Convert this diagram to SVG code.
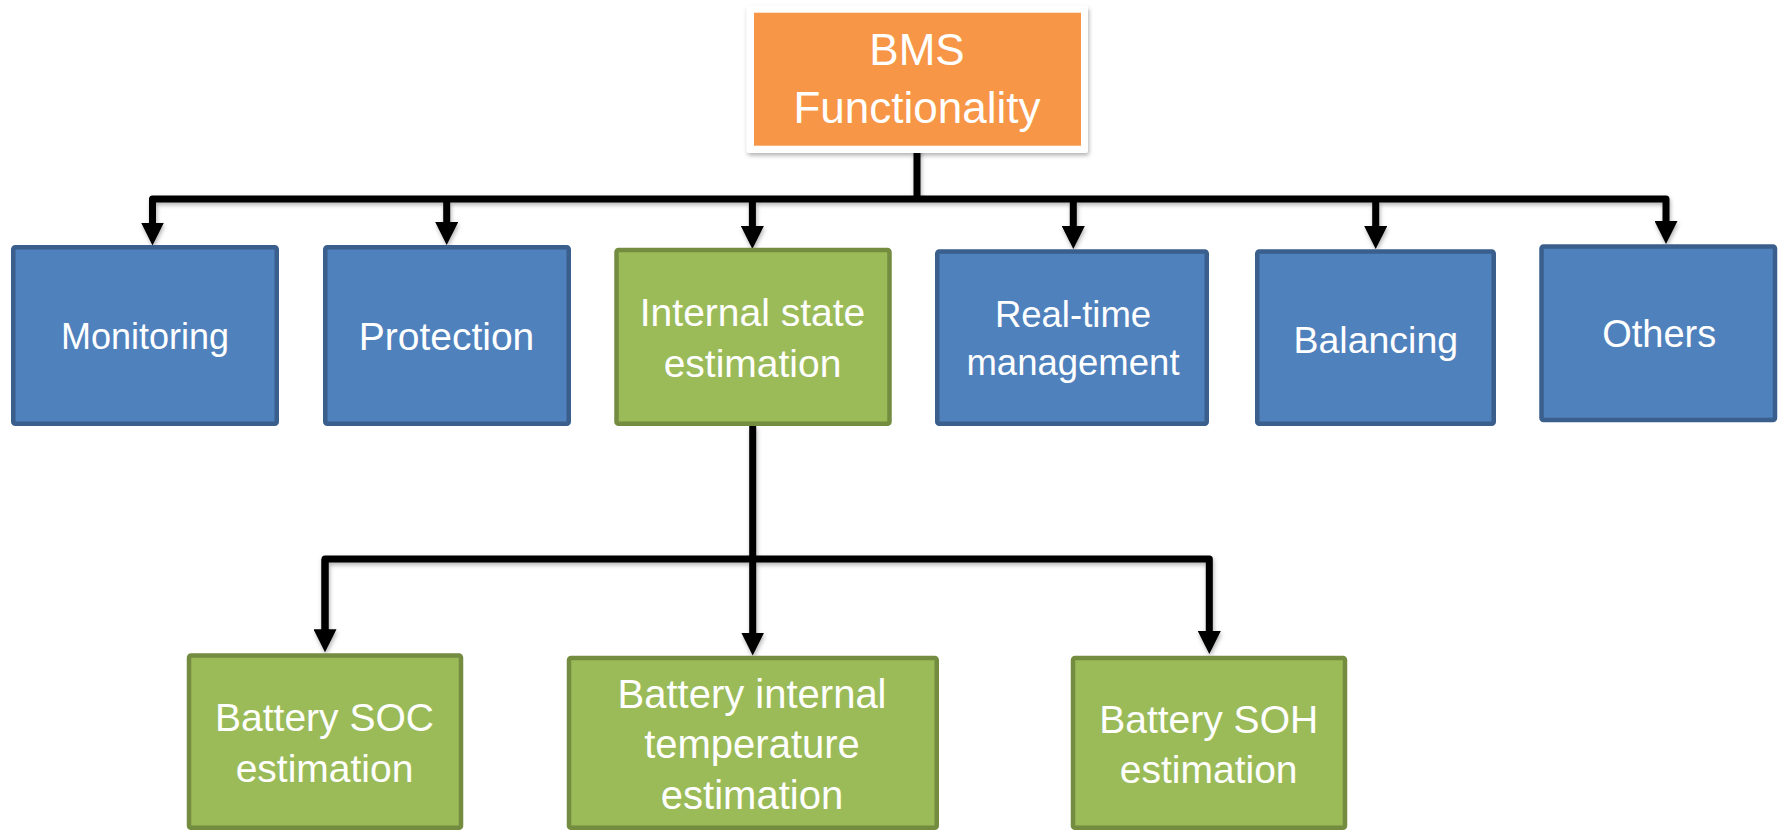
<svg xmlns="http://www.w3.org/2000/svg" width="1781" height="830" viewBox="0 0 1781 830">
<style>
.blue{fill:#4F81BD;stroke:#3A5F8C;stroke-width:4.5}
.green{fill:#9BBB59;stroke:#738C40;stroke-width:4.5}
.lbl{font-family:"Liberation Sans",Arial,sans-serif;fill:#FFFFFF;text-anchor:middle}
.wire{fill:none;stroke:#000;stroke-width:7;stroke-linejoin:round}
</style>
<defs>
<marker id="ah" viewBox="0 0 23 23" markerWidth="23" markerHeight="23" refX="1" refY="11.5" orient="auto" markerUnits="userSpaceOnUse">
<path d="M0,0 L23,11.5 L0,23 Z" fill="#000"/>
</marker>
<filter id="sh" x="-10%" y="-10%" width="120%" height="130%">
<feDropShadow dx="1" dy="2.5" stdDeviation="2" flood-color="#000" flood-opacity="0.3"/>
</filter>
</defs>
<rect width="1781" height="830" fill="#FFFFFF"/>

<g id="connectors" filter="url(#sh)">
<path class="wire" d="M917,145 V199"/>
<path class="wire" d="M152.5,223.5 V199 H1666 V222" marker-end="url(#ah)"/>
<path class="wire" d="M152.5,199 V223.5" marker-end="url(#ah)"/>
<path class="wire" d="M446.7,199 V223" marker-end="url(#ah)"/>
<path class="wire" d="M752.4,199 V227" marker-end="url(#ah)"/>
<path class="wire" d="M1073.3,199 V227" marker-end="url(#ah)"/>
<path class="wire" d="M1375.7,199 V227" marker-end="url(#ah)"/>
<path class="wire" d="M752.7,426 V633.5" marker-end="url(#ah)"/>
<path class="wire" d="M325,630 V559 H1209.3 V632" marker-end="url(#ah)"/>
<path class="wire" d="M325,559 V630.3" marker-end="url(#ah)"/>
</g>

<g id="bms">
<rect x="746.7" y="5.7" width="341.3" height="147.3" rx="3" fill="#FFFFFF" filter="url(#sh)"/>
<rect x="754" y="12.7" width="327" height="133" fill="#F79646"/>
<text class="lbl" x="917" y="65" font-size="44">BMS</text>
<text class="lbl" x="917" y="123" font-size="44">Functionality</text>
</g>

<g id="monitoring">
<rect class="blue" x="13.25" y="247.25" width="263.5" height="176.5" rx="2"/>
<text class="lbl" x="145" y="349" font-size="36">Monitoring</text>
</g>

<g id="protection">
<rect class="blue" x="325.25" y="247.25" width="243.5" height="176.5" rx="2"/>
<text class="lbl" x="446.5" y="350" font-size="39">Protection</text>
</g>

<g id="internal">
<rect class="green" x="616.5" y="250" width="273" height="173.75" rx="2"/>
<text class="lbl" x="752.5" y="326" font-size="39">Internal state</text>
<text class="lbl" x="752.5" y="376.7" font-size="39">estimation</text>
</g>

<g id="realtime">
<rect class="blue" x="937.25" y="251.5" width="269.5" height="172.25" rx="2"/>
<text class="lbl" x="1073" y="326.7" font-size="36.5">Real-time</text>
<text class="lbl" x="1073" y="375" font-size="36.5">management</text>
</g>

<g id="balancing">
<rect class="blue" x="1257.25" y="251.5" width="236.5" height="172.25" rx="2"/>
<text class="lbl" x="1375.8" y="352.7" font-size="37.5">Balancing</text>
</g>

<g id="others">
<rect class="blue" x="1541.5" y="246.5" width="233.5" height="173.5" rx="2"/>
<text class="lbl" x="1659.2" y="347.3" font-size="38">Others</text>
</g>

<g id="soc">
<rect class="green" x="189" y="655.5" width="272" height="172.25" rx="2"/>
<text class="lbl" x="324.5" y="731" font-size="39">Battery SOC</text>
<text class="lbl" x="324.5" y="782.3" font-size="39">estimation</text>
</g>

<g id="temperature">
<rect class="green" x="569" y="658" width="367.75" height="169.75" rx="2"/>
<text class="lbl" x="752" y="707.7" font-size="40">Battery internal</text>
<text class="lbl" x="752" y="758.3" font-size="40">temperature</text>
<text class="lbl" x="752" y="809.3" font-size="40">estimation</text>
</g>

<g id="soh">
<rect class="green" x="1073" y="658" width="272" height="169.75" rx="2"/>
<text class="lbl" x="1208.7" y="732.7" font-size="39">Battery SOH</text>
<text class="lbl" x="1208.7" y="783.3" font-size="39">estimation</text>
</g>
</svg>
